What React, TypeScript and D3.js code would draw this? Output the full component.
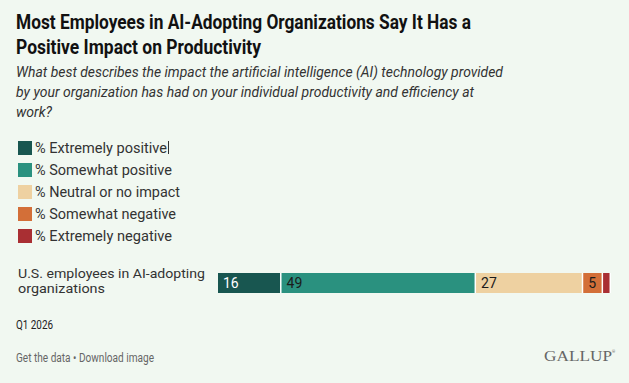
import React from "react";
import * as d3 from "d3";

const W = 629;
const H = 383;

const categories = ["U.S. employees in AI-adopting", "organizations"];
const categoryWidths = [187, 87];
const seriesNames = [
  "% Extremely positive",
  "% Somewhat positive",
  "% Neutral or no impact",
  "% Somewhat negative",
  "% Extremely negative",
];
const legendWidths = [132, 137, 145, 141, 137];
const seriesValues = [16, 49, 27, 5, 2];
const seriesColors = ["#185650", "#2a917f", "#eed1a1", "#d36f38", "#a92f33"];
const labelColors = ["#ffffff", "#1b1b1b", "#1b1b1b", "#1b1b1b", "#1b1b1b"];

const titleLines = [
  "Most Employees in AI-Adopting Organizations Say It Has a",
  "Positive Impact on Productivity",
];
const titleWidths = [455, 245];
const subtitleLines = [
  "What best describes the impact the artificial intelligence (AI) technology provided",
  "by your organization has had on your individual productivity and efficiency at",
  "work?",
];
const subtitleWidths = [487, 458, 36];

export default function App() {
  const x = d3.scaleLinear().domain([0, 100]).range([218, 615]);
  const stack = d3.cumsum(seriesValues);
  const starts = seriesValues.map((v, i) => stack[i] - v);
  const barY = 273;
  const barH = 20;
  const legendY = d3.scaleBand().domain(seriesNames).range([141, 251]).paddingInner(0);

  return (
    <svg
      width={W}
      height={H}
      style={{ position: "absolute", left: 0, top: 0 }}
      fontFamily="Roboto, 'Noto Sans', sans-serif"
    >
      <rect x={0} y={0} width={W} height={H} fill="#f1f8f1" />
      {titleLines.map((t, i) => (
        <text
          key={t}
          x={16}
          y={29 + i * 25}
          fontSize={20}
          fontWeight={700}
          fill="#111"
          textLength={titleWidths[i]}
          lengthAdjust="spacingAndGlyphs"
        >
          {t}
        </text>
      ))}
      {subtitleLines.map((t, i) => (
        <text
          key={t}
          x={16}
          y={77 + i * 20}
          fontSize={15.5}
          fontStyle="italic"
          fill="#333"
          textLength={subtitleWidths[i]}
          lengthAdjust="spacingAndGlyphs"
        >
          {t}
        </text>
      ))}
      {seriesNames.map((s, i) => (
        <g key={s}>
          <rect x={18} y={legendY(s)} width={14} height={14} fill={seriesColors[i]} />
          <text
            x={35}
            y={(legendY(s) as number) + 12}
            fontSize={14}
            fill="#333"
            textLength={legendWidths[i]}
            lengthAdjust="spacingAndGlyphs"
          >
            {s}
          </text>
        </g>
      ))}
      <line x1={168.5} x2={168.5} y1={141} y2={154} stroke="#333" strokeWidth={1} />
      {categories.map((c, i) => (
        <text
          key={c}
          x={18}
          y={278 + i * 15}
          fontSize={13.5}
          fill="#333"
          textLength={categoryWidths[i]}
          lengthAdjust="spacingAndGlyphs"
        >
          {c}
        </text>
      ))}
      <rect x={x(0)} y={barY} width={x(stack[stack.length - 1]) - x(0)} height={barH} fill="#ffffff" />
      {seriesValues.map((v, i) => (
        <g key={seriesNames[i]}>
          <rect
            x={x(starts[i])}
            y={barY}
            width={Math.max(0, x(starts[i] + v) - x(starts[i]) - 1.5)}
            height={barH}
            fill={seriesColors[i]}
          />
          {v >= 5 && (
            <text x={x(starts[i]) + 5} y={barY + 15} fontSize={14} fill={labelColors[i]}>
              {v}
            </text>
          )}
        </g>
      ))}
      <text x={16} y={329} fontSize={12} fill="#222" textLength={37} lengthAdjust="spacingAndGlyphs">
        Q1 2026
      </text>
      <text x={16} y={362} fontSize={12} fill="#666" textLength={138} lengthAdjust="spacingAndGlyphs">
        Get the data • Download image
      </text>
      <text
        x={544}
        y={361}
        fontSize={15}
        fill="#666"
        fontFamily="'Liberation Serif', 'DejaVu Serif', serif"
        textLength={68}
        lengthAdjust="spacingAndGlyphs"
      >
        GALLUP
      </text>
      <text x={612} y={353} fontSize={4} fill="#666">®</text>
    </svg>
  );
}
